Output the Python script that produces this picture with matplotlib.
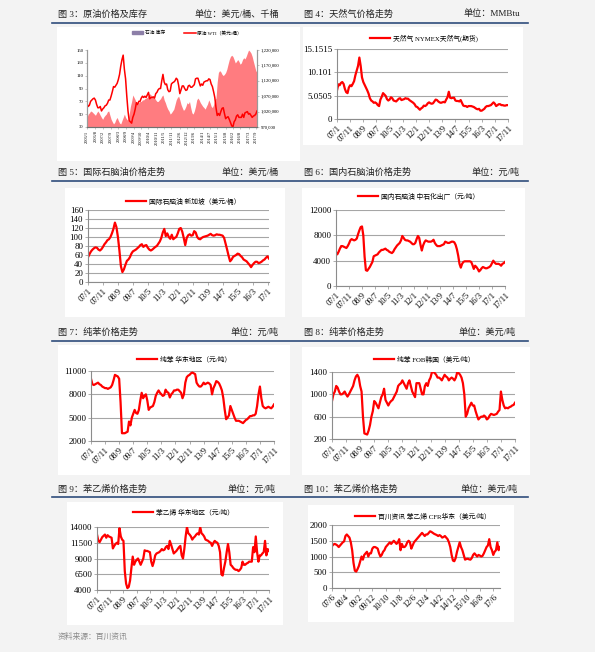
import numpy as np
import matplotlib
matplotlib.use("Agg")
import matplotlib.pyplot as plt
from matplotlib.patches import Rectangle, Patch
from matplotlib.lines import Line2D

W, H = 595, 652
MIX = ['Liberation Serif', 'Noto Sans CJK SC', 'DejaVu Sans']
RED = '#ff0000'

# ---- chart 3: WTI (USD/bbl, monthly 2006/1-2017/10) and crude stocks (kbbl) ----
wti = [66, 62, 64, 70, 72, 74, 75, 72, 65, 60, 60, 62,
       55, 58, 60, 63, 64, 67, 72, 72, 78, 85, 93, 92,
       95, 98, 104, 112, 125, 135, 142, 120, 105, 78, 55, 40,
       38, 36, 45, 50, 58, 68, 65, 70, 70, 75, 78, 76,
       78, 76, 80, 84, 74, 76, 76, 77, 75, 82, 84, 88,
       90, 90, 102, 112, 100, 96, 97, 88, 85, 86, 97, 99,
       100, 102, 106, 104, 95, 82, 88, 94, 94, 90, 87, 88,
       94, 95, 92, 92, 94, 96, 105, 106, 106, 100, 94, 97,
       95, 100, 101, 102, 102, 105, 104, 97, 93, 85, 76, 60,
       48, 51, 48, 54, 59, 60, 51, 43, 45, 46, 42, 37,
       32, 30, 38, 41, 47, 49, 45, 45, 45, 50, 45, 52,
       53, 54, 50, 51, 48, 45, 47, 48, 50, 55]
stocks = [1001000, 1012000, 1016000, 1022000, 1020000, 1016000, 1012000, 1008000, 1016000, 1022000, 1016000, 1008000,
          1001000, 995000, 1003000, 1008000, 1012000, 1020000, 1022000, 1008000, 995000, 987000, 980000, 985000,
          995000, 1001000, 991000, 983000, 980000, 991000, 1001000, 1012000, 1001000, 995000, 991000, 1012000,
          1037000, 1053000, 1074000, 1066000, 1058000, 1045000, 1043000, 1049000, 1053000, 1053000, 1058000, 1058000,
          1062000, 1064000, 1066000, 1074000, 1078000, 1074000, 1070000, 1066000, 1064000, 1058000, 1053000, 1053000,
          1058000, 1062000, 1070000, 1074000, 1058000, 1049000, 1037000, 1028000, 1022000, 1012000, 1016000, 1022000,
          1028000, 1043000, 1058000, 1066000, 1070000, 1058000, 1043000, 1033000, 1024000, 1028000, 1037000, 1049000,
          1045000, 1053000, 1033000, 1016000, 1012000, 1022000, 1037000, 1058000, 1064000, 1058000, 1049000, 1043000,
          1037000, 1033000, 1028000, 1037000, 1045000, 1058000, 1049000, 1037000, 1033000, 1043000, 1058000, 1064000,
          1116000, 1147000, 1153000, 1149000, 1141000, 1137000, 1141000, 1147000, 1158000, 1174000, 1189000, 1199000,
          1203000, 1199000, 1189000, 1178000, 1183000, 1189000, 1183000, 1174000, 1178000, 1189000, 1195000, 1191000,
          1199000, 1210000, 1220000, 1216000, 1210000, 1199000, 1183000, 1168000, 1153000, 1147000]
c3_ticks = ['2006/1', '2006/8', '2007/2', '2007/9', '2008/3', '2008/9', '2009/4', '2009/10',
            '2010/4', '2010/11', '2011/5', '2011/11', '2012/6', '2012/12', '2013/6', '2014/1',
            '2014/7', '2015/1', '2015/8', '2016/2', '2016/8', '2017/3', '2017/9']

# ---- monthly series from 2007/1 ----
ticks_0701 = ['07/1', '07/11', '08/9', '09/7', '10/5', '11/3', '12/1', '12/11',
              '13/9', '14/7', '15/5', '16/3', '17/1', '17/11']
natgas = [6.2, 7.5, 7.3, 7.8, 8.0, 7.6, 6.5, 5.8, 5.6, 6.8, 7.3, 7.1,
          7.6, 8.2, 9.5, 10.5, 11.5, 13.3, 11.5, 9.0, 8.0, 7.4, 6.8, 6.2,
          5.5, 4.5, 4.0, 3.8, 3.5, 3.6, 3.4, 3.0, 2.8, 4.2, 4.8, 5.6,
          5.3, 5.0, 4.3, 4.0, 4.2, 4.7, 4.5, 4.0, 3.9, 3.8, 4.1, 4.4,
          4.5, 4.1, 4.2, 4.3, 4.5, 4.4, 4.4, 4.1, 3.9, 3.7, 3.5, 3.2,
          2.7, 2.6, 2.3, 2.0, 2.3, 2.5, 2.9, 2.8, 3.0, 3.4, 3.6, 3.4,
          3.3, 3.4, 3.8, 4.2, 4.1, 3.8, 3.6, 3.5, 3.6, 3.7, 3.6, 4.2,
          4.7, 5.9, 4.6, 4.5, 4.6, 4.6, 4.0, 3.9, 3.9, 3.8, 4.1, 3.5,
          2.9, 2.8, 2.8, 2.6, 2.8, 2.8, 2.8, 2.7, 2.6, 2.4, 2.2, 2.1,
          2.2, 1.8, 1.8, 2.0, 2.2, 2.6, 2.8, 2.8, 2.9, 3.0, 3.3, 3.6,
          3.3, 2.8, 3.0, 3.2, 3.2, 3.0, 3.0, 2.9, 2.9, 3.0, 3.0]
naphtha_sg = [55, 62, 68, 72, 75, 77, 76, 72, 70, 73, 78, 84,
              88, 93, 95, 100, 108, 118, 132, 122, 100, 70, 35, 22,
              28, 38, 47, 50, 55, 63, 68, 70, 72, 75, 78, 82,
              84, 78, 81, 82, 76, 72, 70, 72, 75, 78, 80, 85,
              90, 98, 110, 118, 102, 108, 100, 96, 105, 95, 98, 100,
              108, 118, 120, 112, 98, 82, 98, 104, 106, 103, 104, 113,
              110, 100, 96, 95, 98, 100, 101, 102, 103, 105, 107, 104,
              103, 104, 106, 105, 105, 104, 103, 98, 85, 72, 58, 46,
              50, 56, 58, 60, 63, 62, 58, 55, 50, 48, 46, 42,
              38, 33, 38, 42, 45, 45, 42, 43, 45, 48, 50, 54,
              57, 52]
naphtha_cn = [5200, 5000, 5400, 5900, 6300, 6300, 6200, 6100, 6000, 6300, 6700, 7200,
              7400, 7300, 7200, 7300, 7500, 8200, 8800, 9300, 9400, 8000, 4600, 2500,
              2400, 2700, 3000, 3400, 3800, 4700, 4800, 4900, 5000, 5300, 5500, 5700,
              5700, 5800, 5900, 5700, 5600, 5400, 5300, 5200, 5400, 5800, 6100, 6400,
              6600, 6800, 7200, 7900, 7600, 7300, 7200, 7200, 7100, 7000, 6800, 6600,
              6600, 6800, 7400, 7900, 7600, 6500, 5600, 6400, 6900, 7200, 7100, 7000,
              7000, 7000, 7100, 7300, 6800, 6500, 6300, 6300, 6300, 6400, 6500, 6600,
              7000, 6900, 6800, 6800, 6900, 7000, 7000, 6900, 6500, 5800, 4800, 3500,
              2900, 3500, 3800, 3900, 3900, 3900, 3900, 3900, 3800, 3300, 2700, 3200,
              3000, 2700, 2300, 2500, 2800, 3000, 2900, 2800, 2800, 2900, 3000, 3200,
              3600, 4000, 3700, 3500, 3500, 3500, 3400, 3200, 3500, 3600, 3800]
benzene_ec = [10000, 9300, 9200, 9300, 9400, 9500, 9300, 9200, 9000, 8900, 8800, 8800,
              8700, 8800, 8900, 9200, 9800, 10500, 10400, 10300, 10000, 7000, 3000, 3000,
              3000, 3100, 3200, 4500, 4000, 5000, 5500, 6000, 5600, 5500, 6000, 7200,
              8200, 7500, 7800, 8000, 7200, 6000, 6300, 6400, 6500, 7000, 7800, 8200,
              8500, 8200, 8000, 7800, 7900, 8600, 8300, 8200, 7600, 8000, 8200, 8500,
              8500, 8600, 8600, 8400, 8200, 7500, 8000, 9500, 10200, 10400, 10500, 10700,
              10800, 10700, 10600, 9500, 9200, 9000, 9000, 9200, 9500, 9300, 9400, 9500,
              9400, 9200, 8000, 8800, 9200, 9700, 9600, 9400, 9000, 8500, 7500, 6000,
              4800, 5000, 5300, 6500, 6000, 5500, 5000, 4600, 4600, 4600, 4500, 4400,
              4300, 4500, 4700, 4800, 5000, 5200, 5200, 5300, 5300, 5500, 6500, 8000,
              9000, 7500, 6500, 6300, 6200, 6300, 6400, 6300, 6200, 6400, 6700]
benzene_kr = [880, 1000, 1050, 1150, 1120, 1050, 1000, 1000, 1020, 1050, 1000, 960,
              1000, 1050, 1100, 1150, 1250, 1320, 1350, 1300, 1150, 1050, 600, 300,
              290, 280, 350, 450, 600, 700, 880, 850, 800, 750, 850, 950,
              1000, 1100, 900, 850, 800, 850, 880, 900, 950, 1000, 1050, 1150,
              1180, 1200, 1250, 1200, 1150, 1100, 1200, 1250, 1150, 1050, 1000, 950,
              1200, 1200, 1200, 1100, 1000, 1000, 1150, 1200, 1150, 1250, 1300, 1400,
              1400, 1380, 1350, 1300, 1300, 1280, 1250, 1300, 1350, 1320, 1300, 1250,
              1280, 1300, 1280, 1250, 1300, 1400, 1380, 1350, 1300, 1200, 1000, 600,
              650, 750, 800, 850, 800, 800, 700, 620, 550, 580, 600, 600,
              620, 600, 550, 570, 620, 650, 640, 630, 640, 650, 690, 720,
              1050, 900, 800, 750, 760, 750, 770, 780, 800, 810, 850]
styrene_ec = [12800, 11800, 11600, 12000, 12400, 12600, 12800, 12300, 12700, 12500, 12400, 12300,
              10600, 11000, 11300, 11500, 11300, 13800, 12500, 12000, 11800, 7000, 5000, 4300,
              4500, 5500, 7500, 9300, 8000, 8500, 8800, 9000, 8500, 8000, 8500, 9000,
              10300, 10200, 10200, 10100, 10000, 8500, 7800, 8500, 9500, 9800, 9900, 10000,
              10200, 10500, 10300, 10400, 10800, 11000, 10500, 11800, 11200, 10500, 9800, 10000,
              10200, 10500, 10800, 11000, 9500, 9000, 10500, 12500, 14000, 13000, 12800, 12500,
              12000, 12300, 12500, 12800, 13000, 12800, 14000, 13000, 12800, 12500, 12000, 11900,
              11800, 11600, 11500, 11000, 11500, 11800, 11600, 11500, 11000, 10000, 6500, 6300,
              7500, 8500, 10000, 11300, 10000, 8000, 7800, 7500, 7300, 7200, 7200, 7000,
              7200, 7500, 8500, 8000, 8000, 8200, 8300, 8500, 8500, 8500, 10800, 10000,
              12500, 10000, 8500, 9500, 9500, 9800, 10000, 11800, 9500, 10500, 10200]

# ---- monthly from 2007/6 ----
ticks_0706 = ['07/6', '08/4', '09/2', '09/12', '10/10', '11/8', '12/6', '13/4',
              '14/2', '14/12', '15/10', '16/8', '17/6']
styrene_cfr = [1330, 1380, 1400, 1380, 1350, 1300, 1350, 1400, 1450, 1480, 1650, 1700,
               1650, 1600, 1450, 1200, 800, 550, 520, 600, 700, 850, 1000, 900,
               1050, 1100, 1150, 1000, 1100, 1100, 1250, 1300, 1300, 1280, 1250, 1100,
               1000, 1050, 1150, 1200, 1300, 1350, 1400, 1450, 1400, 1450, 1500, 1450,
               1400, 1450, 1550, 1200, 1400, 1300, 1300, 1350, 1450, 1500, 1450, 1250,
               1350, 1450, 1500, 1550, 1600, 1650, 1700, 1750, 1700, 1650, 1700, 1700,
               1750, 1800, 1780, 1750, 1720, 1700, 1680, 1650, 1680, 1650, 1600, 1620,
               1650, 1600, 1550, 1450, 1300, 1050, 870, 850, 950, 1150, 1300, 1450,
               1300, 1200, 1050, 900, 920, 930, 910, 900, 950, 1050, 1100, 1050,
               1000, 1050, 1030, 1000, 1020, 1100, 1200, 1300, 1350, 1550, 1300, 1200,
               1050, 1150, 1200, 1450, 1200, 1300]

fig = plt.figure(figsize=(W / 100, H / 100), dpi=100, facecolor='#f3f3f3')


def fy(y):
    return 1 - y / H


def px_axes(x0, y0, x1, y1):
    return fig.add_axes([x0 / W, fy(y1), (x1 - x0) / W, (y1 - y0) / H])


def white_box(x0, y0, x1, y1):
    fig.add_artist(Rectangle((x0 / W, fy(y1)), (x1 - x0) / W, (y1 - y0) / H,
                             transform=fig.transFigure, facecolor='white',
                             edgecolor='none', zorder=0))


def header(y, title, unit, x_title, x_unit):
    fig.text(x_title / W, fy(y), title, family=MIX, fontsize=6.6, color='#222222',
             va='center', ha='left')
    fig.text(x_unit / W, fy(y), unit, family=MIX, fontsize=6.6, color='#222222',
             va='center', ha='right')


def rule(y):
    fig.add_artist(Line2D([52 / W, 528 / W], [fy(y), fy(y)], transform=fig.transFigure,
                          color='#2f4d7c', lw=1.2))


def line_panel(rect, values, tick_labels, ylim, yticks, ylabels, label, leg_xy, xmax=None):
    ax = px_axes(*rect)
    x = np.arange(len(values))
    ax.plot(x, values, color=RED, lw=1.6, solid_joinstyle='round')
    ax.set_xlim(0, xmax if xmax is not None else x[-1])
    ax.set_ylim(*ylim)
    ax.set_yticks(yticks)
    ax.set_yticklabels(ylabels, family=MIX, fontsize=6.4)
    ax.set_xticks(np.arange(len(tick_labels)) * 10)
    ax.set_xticklabels(tick_labels, family=MIX, fontsize=6.0, rotation=45,
                       ha='right', rotation_mode='anchor')
    ax.yaxis.grid(True, color='#a6a6a6', lw=0.8)
    ax.set_axisbelow(True)
    for s in ('top', 'right'):
        ax.spines[s].set_visible(False)
    ax.spines['left'].set_color('#8c8c8c')
    ax.spines['bottom'].set_color('#8c8c8c')
    ax.tick_params(axis='both', length=2, width=0.5, color='#8c8c8c', pad=1.5)
    ax.legend([Line2D([], [], color=RED, lw=1.6)], [label], loc='center left',
              bbox_to_anchor=(leg_xy[0] / W, fy(leg_xy[1])), bbox_transform=fig.transFigure,
              frameon=False, prop={'family': MIX, 'size': 4.9}, handlelength=3.0,
              handletextpad=0.4, borderpad=0, borderaxespad=0)
    return ax


# boxes
white_box(57, 27, 300, 161)
white_box(303, 27, 523, 145)
white_box(65, 188, 285, 317)
white_box(302, 188, 525, 317)
white_box(58, 345, 290, 475)
white_box(302, 347, 530, 475)
white_box(67, 502, 283, 625)
white_box(308, 505, 514, 622)

# headers
header(14, '图 3：原油价格及库存', '单位：美元/桶、千桶', 58, 279)
header(14, '图 4：天然气价格走势', '单位：MMBtu', 304, 520)
header(172, '图 5：国际石脑油价格走势', '单位：美元/桶', 58, 279)
header(172, '图 6：国内石脑油价格走势', '单位：元/吨', 304, 520)
header(332, '图 7：纯苯价格走势', '单位：元/吨', 58, 279)
header(332, '图 8：纯苯价格走势', '单位：美元/吨', 304, 516)
header(489, '图 9：苯乙烯价格走势', '单位：元/吨', 58, 276)
header(489, '图 10：苯乙烯价格走势', '单位：美元/吨', 304, 518)
for y in (23, 181, 341, 497):
    rule(y)

# chart 3: dual axis
ax3 = px_axes(87, 50, 257, 127)
ax3r = ax3.twinx()
xm = np.arange(len(wti))
ax3r.fill_between(xm, 970000, stocks, color='#ff7c80', lw=0)
ax3r.set_ylim(970000, 1220000)
ax3r.set_yticks(np.arange(970000, 1220001, 50000))
ax3r.set_yticklabels([f'{v:,}' for v in range(970000, 1220001, 50000)], family=MIX, fontsize=3.4)
ax3.plot(xm, wti, color=RED, lw=1.1)
ax3.set_zorder(ax3r.get_zorder() + 1)
ax3.patch.set_visible(False)
ax3.set_ylim(30, 150)
ax3.set_yticks(range(30, 151, 20))
ax3.set_yticklabels([str(v) for v in range(30, 151, 20)], family=MIX, fontsize=3.4)
ax3.set_xlim(0, len(wti) - 1)
c3_pos = [(int(t.split('/')[0]) - 2006) * 12 + int(t.split('/')[1]) - 1 for t in c3_ticks]
ax3.set_xticks(c3_pos)
ax3.set_xticklabels(c3_ticks, family=MIX, fontsize=3.2, rotation=90)
for a in (ax3, ax3r):
    a.spines['top'].set_visible(False)
    for s in ('left', 'right', 'bottom'):
        a.spines[s].set_color('#9a9a9a')
    a.tick_params(length=1.5, width=0.4, color='#9a9a9a', pad=1)
ax3.spines['bottom'].set_color('#707070')
ax3.legend([Patch(color='#8c7fa8'), Line2D([], [], color=RED, lw=1.1)],
           ['石油 库存', '原油 WTI（美元/桶）'], loc='center',
           bbox_to_anchor=(187 / W, fy(33)), bbox_transform=fig.transFigure, ncol=2,
           frameon=False, prop={'family': MIX, 'size': 3.4}, handlelength=2.4,
           handleheight=0.6, columnspacing=4.0, handletextpad=0.4, borderpad=0)

# line charts
line_panel((337, 49, 508, 119), natgas, ticks_0701, (0, 15.1515), [0, 5.0505, 10.101, 15.1515],
           ['0', '5.0505', '10.101', '15.1515'], '天然气 NYMEX天然气(期货)', (370, 38))
line_panel((88, 210, 269, 282), naphtha_sg, ticks_0701[:13], (0, 160), range(0, 161, 20),
           [str(v) for v in range(0, 161, 20)], '国际石脑油 新加坡（美元/桶）', (126, 201),
           xmax=len(naphtha_sg) - 1)
line_panel((336, 210, 505, 286), naphtha_cn, ticks_0701, (0, 12000), [0, 4000, 8000, 12000],
           ['0', '4000', '8000', '12000'], '国内石脑油 中石化出厂（元/吨）', (358, 196))
line_panel((91, 371, 274, 441), benzene_ec, ticks_0701, (2000, 11000), [2000, 5000, 8000, 11000],
           ['2000', '5000', '8000', '11000'], '纯苯 华东地区（元/吨）', (137, 359))
line_panel((332, 372, 515, 439), benzene_kr, ticks_0701, (200, 1400), [200, 600, 1000, 1400],
           ['200', '600', '1000', '1400'], '纯苯 FOB韩国（美元/吨）', (374, 359))
line_panel((97, 527, 269, 590), styrene_ec, ticks_0701, (4000, 14000),
           [4000, 6500, 9000, 11500, 14000], ['4000', '6500', '9000', '11500', '14000'],
           '苯乙烯 华东地区（元/吨）', (133, 512))
line_panel((332, 525, 500, 588), styrene_cfr, ticks_0706, (0, 2000), [0, 500, 1000, 1500, 2000],
           ['0', '500', '1000', '1500', '2000'], '百川资讯 苯乙烯 CFR华东（美元/吨）', (355, 516))

fig.text(58 / W, fy(637), '资料来源：百川资讯', family=MIX, fontsize=5.6, color='#8a8a8a',
         va='center', ha='left', style='italic')

fig.savefig('out.png', dpi=100, facecolor=fig.get_facecolor())
